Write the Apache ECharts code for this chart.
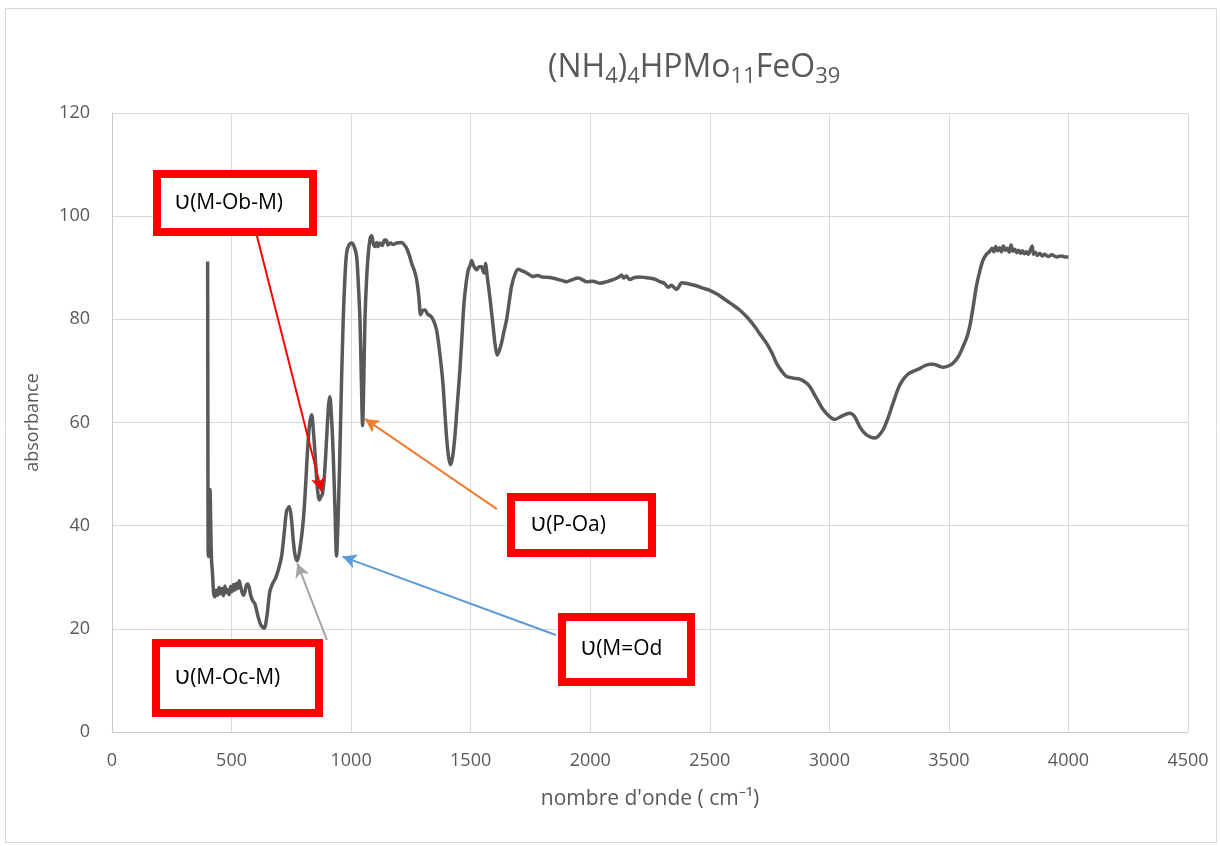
<!DOCTYPE html>
<html>
<head>
<meta charset="utf-8">
<script src="https://cdn.jsdelivr.net/npm/echarts@6/dist/echarts.min.js"></script>
<style>
  html, body { margin: 0; padding: 0; background: #fff; }
  #chart { width: 1220px; height: 846px; }
</style>
</head>
<body>
<div id="chart"></div>
<script>
// IR spectrum of (NH4)4HPMo11FeO39: wavenumber (cm-1) vs absorbance
const wavenumbers = [
  400, 401, 402, 404, 406, 410, 413, 416, 420, 425, 430, 436, 442, 448, 454, 460, 466, 472, 478, 484,
  490, 496, 502, 508, 514, 520, 526, 532, 538, 544, 550, 556, 562, 568, 574, 580, 588, 598, 610, 622,
  636, 648, 660, 672, 684, 696, 709, 720, 730, 741, 750, 758, 766, 775, 786, 800, 810, 817, 826, 835,
  842, 849, 856, 862, 867, 874, 881, 890, 900, 906, 911, 918, 925, 932, 939, 946, 953, 960, 967, 974,
  981, 990, 1002, 1012, 1023, 1030, 1037, 1043, 1048, 1053, 1058, 1065, 1072, 1080, 1086, 1093, 1100, 1107, 1113, 1120,
  1130, 1140, 1148, 1155, 1165, 1176, 1190, 1211, 1225, 1232, 1243, 1253, 1264, 1274, 1283, 1291, 1300, 1309, 1320, 1336,
  1347, 1357, 1364, 1371, 1378, 1385, 1392, 1399, 1407, 1416, 1425, 1434, 1445, 1455, 1464, 1472, 1481, 1490, 1498, 1504,
  1512, 1525, 1535, 1546, 1552, 1559, 1562, 1570, 1580, 1587, 1594, 1602, 1611, 1620, 1629, 1640, 1650, 1660, 1671, 1685,
  1699, 1715, 1734, 1750, 1761, 1780, 1800, 1831, 1860, 1890, 1901, 1920, 1950, 1970, 1984, 2010, 2040, 2070, 2096, 2120,
  2131, 2140, 2150, 2166, 2185, 2207, 2230, 2249, 2270, 2291, 2310, 2326, 2340, 2350, 2361, 2372, 2382, 2400, 2444, 2475,
  2500, 2530, 2556, 2590, 2625, 2660, 2688, 2715, 2737, 2760, 2779, 2800, 2821, 2850, 2876, 2900, 2918, 2945, 2974, 3000,
  3023, 3050, 3085, 3105, 3127, 3150, 3175, 3190, 3205, 3225, 3245, 3266, 3290, 3308, 3330, 3350, 3375, 3399, 3420, 3434,
  3455, 3476, 3500, 3517, 3540, 3559, 3575, 3587, 3600, 3615, 3630, 3643, 3657, 3671, 3680, 3688, 3696, 3704, 3712, 3720,
  3728, 3736, 3744, 3752, 3760, 3768, 3776, 3784, 3792, 3800, 3808, 3816, 3824, 3832, 3840, 3848, 3854, 3862, 3870, 3880,
  3890, 3900, 3915, 3930, 3950, 3970, 3985, 4000
];
const absorbance = [
  91.2, 60, 35, 34, 36, 47, 40, 33.5, 31, 27, 26.2, 27.5, 26.5, 28, 26.8, 27.8, 26.4, 28.3, 27, 27.6,
  26.6, 28.2, 27.2, 28.6, 27.5, 28.8, 27.8, 29.3, 28.2, 27.1, 26.5, 27.2, 28.5, 28.7, 28, 26.5, 25.5, 24.8, 22.5, 20.8,
  20.1, 22.5, 27.2, 28.8, 29.8, 31.5, 34, 38.5, 42.8, 43.7, 41.5, 37.2, 34.2, 33.2, 35.5, 41, 48, 54, 59.5, 61.5,
  58.5, 54, 49, 46, 45, 45.6, 46.3, 50.8, 59, 63.5, 65, 61, 54, 44, 34.1, 42, 54, 68, 80, 88,
  92.8, 94.3, 94.8, 94.2, 92.2, 87, 80, 68, 59.4, 68, 80, 88, 92.8, 95.8, 96.2, 94.6, 94.1, 94.9, 94.1, 94.8,
  94.3, 95.4, 95.3, 94.4, 94.8, 94.5, 94.8, 94.9, 94.3, 93.8, 92.5, 90.9, 89.5, 87.7, 84.5, 80.9, 81.7, 81.8, 81.0, 80.5,
  79.5, 78, 76, 73.4, 70.5, 67, 62, 57.3, 53.5, 51.8, 53.5, 57.3, 64, 70.2, 77, 83.1, 87, 89.6, 90.5, 91.4,
  90.4, 89.6, 90.2, 90.2, 89.3, 89, 90.8, 88, 84.4, 81.5, 78.6, 75.2, 73.1, 74, 75.4, 77.8, 79.9, 83, 86.4, 88.7,
  89.7, 89.4, 89, 88.5, 88.3, 88.5, 88.2, 88.1, 87.8, 87.4, 87.3, 87.6, 88, 87.6, 87.3, 87.4, 87, 87.3, 87.7, 88.2,
  88.6, 88, 88.4, 87.7, 88.1, 88.2, 88.1, 88, 87.8, 87.3, 87, 86.2, 86.6, 86.2, 85.8, 86.4, 87.1, 87, 86.5, 86,
  85.6, 84.9, 84.1, 83, 81.8, 80.2, 78.6, 76.8, 75.4, 73.5, 71.5, 70, 68.9, 68.6, 68.4, 67.8, 67, 64.8, 62.5, 61.2,
  60.6, 61.2, 61.8, 61.2, 59.2, 57.8, 57.1, 57, 57.4, 58.6, 60.8, 63.7, 66.8, 68.3, 69.4, 69.9, 70.4, 71, 71.3, 71.3,
  71, 70.7, 71, 71.5, 72.8, 74.7, 76.5, 78.6, 82, 86.4, 89.5, 91.5, 92.6, 93.2, 93.8, 93.1, 94.1, 93.3, 93.9, 93.1,
  94.2, 93.4, 93.8, 93, 94.4, 93.2, 93.6, 92.9, 93.4, 92.8, 93.3, 92.7, 93.1, 92.6, 93.4, 94.2, 92.6, 93, 92.4, 92.8,
  92.3, 92.6, 92.2, 92.5, 92.1, 92.3, 92.1, 92.1
];

// Axis ticks
const xTicks = [0, 500, 1000, 1500, 2000, 2500, 3000, 3500, 4000, 4500];
const yTicks = [0, 20, 40, 60, 80, 100, 120];

// Band assignments: label, arrow tail [cm-1, abs], arrow head [cm-1, abs], colour
const bandLabels = ['Ʋ(M-Ob-M)', 'Ʋ(P-Oa)', 'Ʋ(M-Oc-M)', 'Ʋ(M=Od'];
const arrowTails = [[605, 96.4], [1610, 43.2], [899, 17.8], [1856, 18.8]];
const arrowHeads = [[877, 46.6], [1058, 60.7], [775, 32.7], [964, 34.0]];
const arrowColors = ['#ff0000', '#ed7d31', '#a5a5a5', '#5b9bd5'];
// Label box rectangles in the page: [left, top, width, height]
const labelBoxes = [[153, 170, 164, 66], [507, 493, 149, 64], [152, 639, 171, 78], [558, 613, 137, 73]];
const labelTextX = [175, 531, 175, 581];

const FONT = '"Open Sans", "Liberation Sans", sans-serif';
const TXT = '#595959';

const series = wavenumbers.map((w, i) => [w, absorbance[i]]);

const chart = echarts.init(document.getElementById('chart'), null, { renderer: 'canvas' });

const boxGraphics = [];
labelBoxes.forEach((b, i) => {
  boxGraphics.push({
    type: 'rect',
    z: 100,
    shape: { x: b[0] + 4, y: b[1] + 4, width: b[2] - 8, height: b[3] - 8 },
    style: { fill: '#ffffff', stroke: '#ff0000', lineWidth: 8 }
  });
  boxGraphics.push({
    type: 'text',
    z: 101,
    x: labelTextX[i],
    y: b[1] + b[3] / 2,
    style: {
      text: bandLabels[i],
      font: '21px ' + FONT,
      fill: '#000000',
      textVerticalAlign: 'middle',
      verticalAlign: 'middle'
    }
  });
});

const option = {
  animation: false,
  backgroundColor: '#ffffff',
  textStyle: { fontFamily: FONT },
  title: {
    text: '(NH{s|4}){s|4}HPMo{s|11}FeO{s|39}',
    left: 543,
    top: 42,
    textStyle: {
      fontFamily: FONT,
      fontSize: 32,
      fontWeight: 'normal',
      color: TXT,
      lineHeight: 42,
      rich: {
        s: { fontFamily: FONT, fontSize: 22, color: TXT, lineHeight: 42, padding: [17, 0, 0, 0] }
      }
    }
  },
  grid: { left: 112, right: 32, top: 113, bottom: 114, containLabel: false },
  xAxis: {
    type: 'value',
    min: xTicks[0],
    max: xTicks[xTicks.length - 1],
    interval: 500,
    name: 'nombre d\'onde ( cm⁻¹)',
    nameLocation: 'middle',
    nameGap: 57,
    nameTextStyle: { fontFamily: FONT, fontSize: 21, color: TXT },
    axisLine: { show: true, lineStyle: { color: '#c9c9c9', width: 1 } },
    axisTick: { show: false },
    axisLabel: { fontFamily: FONT, fontSize: 18, color: TXT, margin: 20, formatter: v => String(v) },
    splitLine: { show: true, lineStyle: { color: '#d9d9d9', width: 1 } }
  },
  yAxis: {
    type: 'value',
    min: yTicks[0],
    max: yTicks[yTicks.length - 1],
    interval: 20,
    name: 'absorbance',
    nameLocation: 'middle',
    nameGap: 70,
    nameRotate: 90,
    nameTextStyle: { fontFamily: FONT, fontSize: 18, color: TXT },
    axisLine: { show: true, lineStyle: { color: '#c9c9c9', width: 1 } },
    axisTick: { show: false },
    axisLabel: { fontFamily: FONT, fontSize: 18, color: TXT, margin: 22, formatter: v => String(v) },
    splitLine: { show: true, lineStyle: { color: '#d9d9d9', width: 1 } }
  },
  series: [{
    type: 'line',
    data: series,
    showSymbol: false,
    smooth: 0.3,
    lineStyle: { color: '#595959', width: 3.5 },
    z: 3,
    markLine: {
      silent: true,
      symbol: ['none', 'arrow'],
      symbolSize: [11, 14],
      label: { show: false },
      z: 5,
      data: arrowTails.map((t, i) => [
        { coord: t, lineStyle: { color: arrowColors[i], width: 2, type: 'solid' } },
        { coord: arrowHeads[i] }
      ])
    }
  }],
  graphic: [
    {
      type: 'rect',
      z: -10,
      shape: { x: 5.5, y: 8.5, width: 1211, height: 834 },
      style: { fill: 'none', stroke: '#d9d9d9', lineWidth: 1 }
    }
  ].concat(boxGraphics)
};

chart.setOption(option);
</script>
</body>
</html>
